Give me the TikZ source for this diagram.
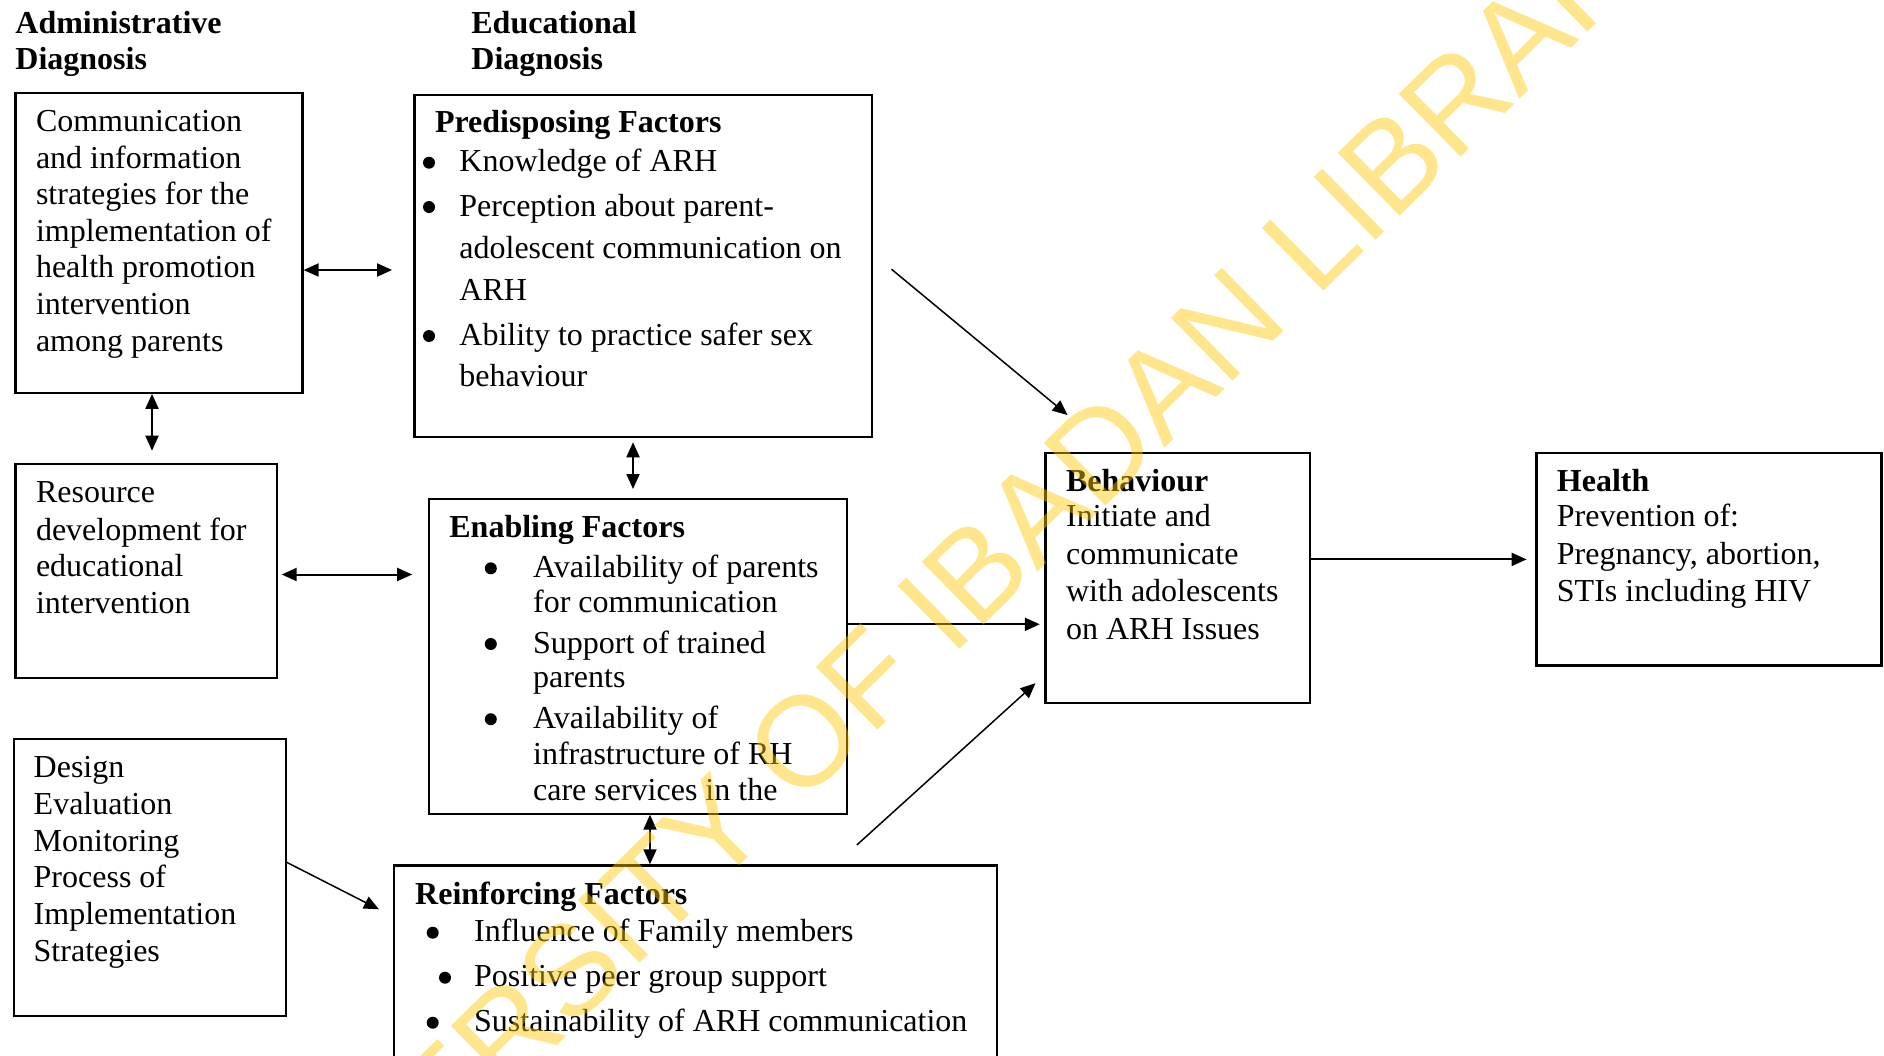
\documentclass[tikz,border=0pt]{standalone}
\usepackage{fontspec}
\setmainfont{Liberation Serif}
\newfontfamily\wmfont{Liberation Sans}
\usetikzlibrary{arrows.meta,calc}
\definecolor{wmcol}{RGB}{255,200,0}
\newcommand\txtline[4]{\node[txt,anchor=base west] (#1) at (#2,#3) {#4};}
\newcommand\hdline[4]{\node[hd,anchor=base west] (#1) at (#2,#3) {#4};}
\newcommand\bul[3]{\node[bulletdot] (#1) at ($(#2,#3)+(0,-9)$) {};}
\begin{document}
\begin{tikzpicture}[x=0.5pt,y=-0.5pt,
  box/.style={draw, line width=1.1pt, anchor=north west, inner sep=0pt, rectangle},
  txt/.style={inner sep=0pt, font=\fontsize{16pt}{18pt}\selectfont},
  hd/.style={inner sep=0pt, font=\fontsize{16pt}{18pt}\selectfont\bfseries},
  bulletdot/.style={circle, fill=black, inner sep=0pt, minimum size=6pt},
  Tri/.tip={Triangle[length=7.5pt,width=6.5pt]},
  arr/.style={-Tri, line width=1pt},
  darr/.style={-Tri, line width=0.75pt},
  dbl/.style={Tri-Tri, line width=1pt}]
\useasboundingbox (0,0) rectangle (1884,1055);
\clip (0,0) rectangle (1884,1055);
\fill[white] (0,0) rectangle (1884,1055);

% headings
\hdline{h1a}{15}{33.5}{Administrative}
\hdline{h1b}{15}{69}{Diagnosis}
\hdline{h2a}{471}{33.5}{Educational}
\hdline{h2b}{471}{69}{Diagnosis}

% boxes
\node[box, minimum width=143.5pt, minimum height=150pt] (b1) at (14.4,91.7) {};
\node[box, minimum width=228.75pt, minimum height=170.85pt] (b2) at (413.3,94) {};
\node[box, minimum width=130.55pt, minimum height=106.9pt] (b3) at (14.4,462.7) {};
\node[box, minimum width=208.95pt, minimum height=157.45pt] (b4) at (427.7,497.6) {};
\node[box, minimum width=136.05pt, minimum height=138.5pt] (b5) at (12.6,738) {};
\node[box, minimum width=301.75pt, minimum height=117.85pt] (b6) at (392.5,864.3) {};
\node[box, minimum width=132.05pt, minimum height=124.95pt] (b7) at (1044.4,451.8) {};
\node[box, minimum width=172.5pt, minimum height=106.3pt] (b8) at (1535.3,451.8) {};

% box 1
\txtline{t1a}{35.6}{131.5}{Communication}
\txtline{t1b}{35.6}{168.1}{and information}
\txtline{t1c}{35.6}{204.7}{strategies for the}
\txtline{t1d}{35.6}{241.3}{implementation of}
\txtline{t1e}{35.6}{277.9}{health promotion}
\txtline{t1f}{35.6}{314.5}{intervention}
\txtline{t1g}{35.6}{351.1}{among parents}

% box 2
\hdline{t2h}{434.6}{132.7}{Predisposing Factors}
\bul{u2a}{429}{171.7}
\bul{u2b}{429}{216}
\bul{u2c}{429}{345}
\txtline{t2a}{459}{171.7}{Knowledge of ARH}
\txtline{t2b}{459}{216}{Perception about parent-}
\txtline{t2c}{459}{258.3}{adolescent communication on}
\txtline{t2d}{459}{300}{ARH}
\txtline{t2e}{459}{345}{Ability to practice safer sex}
\txtline{t2f}{459}{386.7}{behaviour}

% box 3
\txtline{t3a}{35.6}{502.7}{Resource}
\txtline{t3b}{35.6}{540}{development for}
\txtline{t3c}{35.6}{576.5}{educational}
\txtline{t3d}{35.6}{613.7}{intervention}

% box 4
\hdline{t4h}{449}{537.3}{Enabling Factors}
\bul{u4a}{490.8}{577.3}
\bul{u4b}{490.8}{653}
\bul{u4c}{490.8}{728.2}
\txtline{t4a}{532.7}{577.3}{Availability of parents}
\txtline{t4b}{532.7}{612.5}{for communication}
\txtline{t4c}{532.7}{653}{Support of trained}
\txtline{t4d}{532.7}{687.8}{parents}
\txtline{t4e}{532.7}{728.2}{Availability of}
\txtline{t4f}{532.7}{764.7}{infrastructure of RH}
\txtline{t4g}{532.7}{800.8}{care services in the}

% box 5
\txtline{t5a}{33.3}{777}{Design}
\txtline{t5b}{33.3}{814.5}{Evaluation}
\txtline{t5c}{33.3}{851}{Monitoring}
\txtline{t5d}{33.3}{887.5}{Process of}
\txtline{t5e}{33.3}{924.3}{Implementation}
\txtline{t5f}{33.3}{961.6}{Strategies}

% box 6
\hdline{t6h}{414.8}{904}{Reinforcing Factors}
\bul{u6a}{432.7}{941.7}
\bul{u6b}{445}{986.7}
\bul{u6c}{432.7}{1031.7}
\txtline{t6a}{473.75}{941.7}{Influence of Family members}
\txtline{t6b}{473.75}{986.7}{Positive peer group support}
\txtline{t6c}{473.75}{1031.7}{Sustainability of ARH communication}

% box 7
\hdline{t7h}{1065.7}{491}{Behaviour}
\txtline{t7a}{1065.7}{526.8}{Initiate and}
\txtline{t7b}{1065.7}{564.7}{communicate}
\txtline{t7c}{1065.7}{601.8}{with adolescents}
\txtline{t7d}{1065.7}{639.3}{on ARH Issues}

% box 8
\hdline{t8h}{1556.5}{491}{Health}
\txtline{t8a}{1556.5}{526.8}{Prevention of:}
\txtline{t8b}{1556.5}{564.7}{Pregnancy, abortion,}
\txtline{t8c}{1556.5}{601.8}{STIs including HIV}

% connectors
\draw[dbl, shorten >=10.6pt] (b1.east |- 0,270) -- (b2.west |- 0,270);
\draw[dbl, shorten >=6pt] (b1.south -| 152,0) -- (b3.north -| 152,0);
\draw[dbl, shorten <=2.2pt, shorten >=4.3pt] (b2.south -| 633,0) -- (b4.north -| 633,0);
\draw[dbl, shorten <=2pt, shorten >=7.75pt] (b3.east |- 0,574.5) -- (b4.west |- 0,574.5);
\draw[dbl] (b4.south -| 650,0) -- (b6.north -| 650,0);
\draw[darr, shorten >=7.6pt] (b5.east |- 0,862.4) -- (b6.west |- 0,916.2);
\draw[darr, shorten <=12pt, shorten >=28.85pt] (b2.east |- 0,253.9) -- (b7.north -| 1112,0);
\draw[arr, shorten >=2.3pt] (b4.east |- 0,624.3) -- (b7.west |- 0,624.3);
\draw[darr, shorten <=14.4pt, shorten >=6pt] (b6.north -| 835.5,0) -- (b7.west |- 0,675.15);
\draw[arr, shorten >=4.35pt] (b7.east |- 0,559.4) -- (b8.west |- 0,559.4);

% watermark
\node[rotate=44.5, opacity=0.45, text=wmcol, inner sep=0pt,
      font=\wmfont\fontsize{64pt}{64pt}\selectfont] (wm) at (935,612) {UNIVERSITY OF IBADAN LIBRARY};
\end{tikzpicture}
\end{document}
